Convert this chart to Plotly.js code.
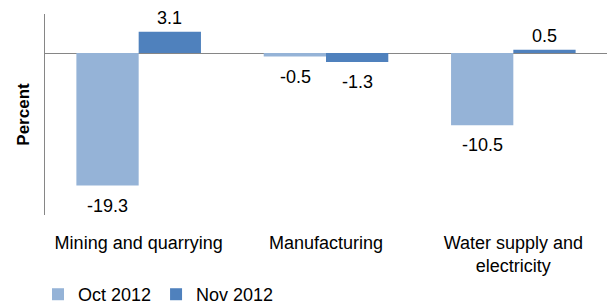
<!DOCTYPE html>
<html>
<head>
<meta charset="utf-8">
<script src="https://cdn.plot.ly/plotly-3.0.1.min.js"></script>
<style>html,body{margin:0;padding:0;background:#fff;}#chart{width:613px;height:305px;}</style>
</head>
<body>
<div id="chart"></div>
<script>
var categories = ["Mining and quarrying", "Manufacturing", "Water supply and<br>electricity"];
var seriesNames = ["Oct 2012", "Nov 2012"];
var oct2012 = [-19.3, -0.5, -10.5];
var nov2012 = [3.1, -1.3, 0.5];
var labelsOct = ["-19.3", "-0.5", "-10.5"];
var labelsNov = ["3.1", "-1.3", "0.5"];
var colors = ["#95B3D7", "#4F81BD"];

var FONT = "Liberation Sans, Arial, sans-serif";

var traces = [
  {type: "bar", name: seriesNames[0], x: categories, y: oct2012, marker: {color: colors[0]}, hoverinfo: "none"},
  {type: "bar", name: seriesNames[1], x: categories, y: nov2012, marker: {color: colors[1]}, hoverinfo: "none"}
];

var annotations = [];
var groups = [[oct2012, labelsOct, -31], [nov2012, labelsNov, 31]];
groups.forEach(function (g) {
  g[0].forEach(function (v, i) {
    annotations.push({
      x: categories[i], y: v, xref: "x", yref: "y",
      text: g[1][i], showarrow: false,
      xshift: g[2], yshift: v >= 0 ? 14 : -20,
      yanchor: "middle", xanchor: "center",
      font: {family: FONT, size: 18, color: "#000"}
    });
  });
});

var layout = {
  width: 613, height: 305,
  margin: {l: 45, r: 6, t: 14, b: 90},
  paper_bgcolor: "#fff", plot_bgcolor: "#fff",
  barmode: "group", bargap: 0.335, bargroupgap: 0,
  font: {family: FONT, size: 18, color: "#000"},
  showlegend: true,
  legend: {
    orientation: "h", xref: "container", yref: "container",
    x: 0.062, y: 0.095, xanchor: "left", yanchor: "top",
    font: {family: FONT, size: 18, color: "#000"},
    itemwidth: 30, tracegroupgap: 0, traceorder: "normal"
  },
  xaxis: {
    type: "category", showline: false, showgrid: false, zeroline: false,
    ticks: "", ticklabelstandoff: 15,
    tickfont: {family: FONT, size: 18, color: "#000"},
    automargin: false
  },
  yaxis: {
    range: [-23.6, 5.7], showline: true, linecolor: "#868686", linewidth: 1,
    showgrid: false, zeroline: true, zerolinecolor: "#868686", zerolinewidth: 1,
    showticklabels: false, ticks: "", automargin: false,
    title: {text: "<b>Percent</b>", standoff: 10, font: {family: FONT, size: 17, color: "#000"}}
  },
  annotations: annotations
};

Plotly.newPlot("chart", traces, layout, {staticPlot: true, displayModeBar: false});
</script>
</body>
</html>
